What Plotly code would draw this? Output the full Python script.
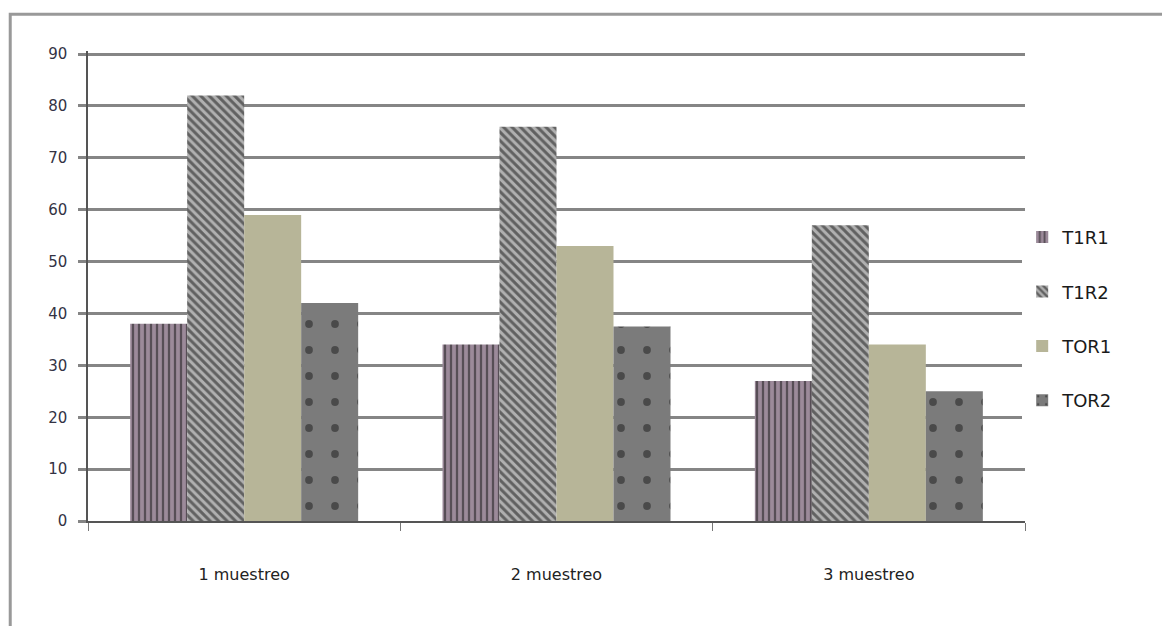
import plotly.graph_objects as go

categories = ["1 muestreo", "2 muestreo", "3 muestreo"]
t1r1 = [38, 34, 27]
t1r2 = [82, 76, 57]
tor1 = [59, 53, 34]
tor2 = [42, 37.5, 25]
y_ticks = [0, 10, 20, 30, 40, 50, 60, 70, 80, 90]

series = [
    ("T1R1", t1r1, dict(color="#9c8a9a", pattern=dict(shape="|", size=6, solidity=0.38, fgcolor="#111111", bgcolor="#9c8a9a"))),
    ("T1R2", t1r2, dict(color="#b0b0b0", pattern=dict(shape="\\", size=6, solidity=0.5, fgcolor="#111111", bgcolor="#b0b0b0"))),
    ("TOR1", tor1, dict(color="#b7b598")),
    ("TOR2", tor2, dict(color="#7b7b7b", pattern=dict(shape=".", size=26, solidity=0.07, fgcolor="#1a1a1a", bgcolor="#7b7b7b"))),
]

fig = go.Figure()
for name, vals, marker in series:
    fig.add_trace(go.Bar(
        x=categories, y=vals, name=name, legendgroup=name,
        marker=dict(line=dict(width=0), **marker),
    ))

fig.update_layout(
    width=1162, height=626,
    margin=dict(l=88, r=137, t=51, b=105),
    paper_bgcolor="white", plot_bgcolor="white",
    barmode="group", bargap=0.27, bargroupgap=0,
    font=dict(family="DejaVu Sans", color="#333333"),
    showlegend=True,
    legend=dict(
        x=0.997, y=0.43, xanchor="left", yanchor="middle",
        font=dict(size=18, color="#1a1a1a", family="DejaVu Sans"),
        tracegroupgap=28, itemwidth=30,
    ),
    xaxis=dict(
        showgrid=False, showline=True, linecolor="#555555", linewidth=1.5,
        ticks="outside", tickson="boundaries", ticklen=8, tickcolor="#777777",
        tickfont=dict(size=16, color="#222222"), ticklabelstandoff=38,
    ),
    yaxis=dict(
        range=[0, 90.6], tickvals=y_ticks,
        showgrid=True, gridcolor="#858585", gridwidth=3,
        showline=True, linecolor="#555555", linewidth=1.5,
        ticks="outside", ticklen=8, tickcolor="#858585", tickwidth=3,
        tickfont=dict(size=15, color="#333344"), ticklabelstandoff=8,
        zeroline=False,
    ),
    shapes=[
        dict(type="rect", xref="paper", yref="paper",
             x0=-0.083, x1=1.3, y0=-0.3, y1=1.078,
             line=dict(color="#999999", width=3), layer="below"),
    ],
)

fig.write_html("out.html")
